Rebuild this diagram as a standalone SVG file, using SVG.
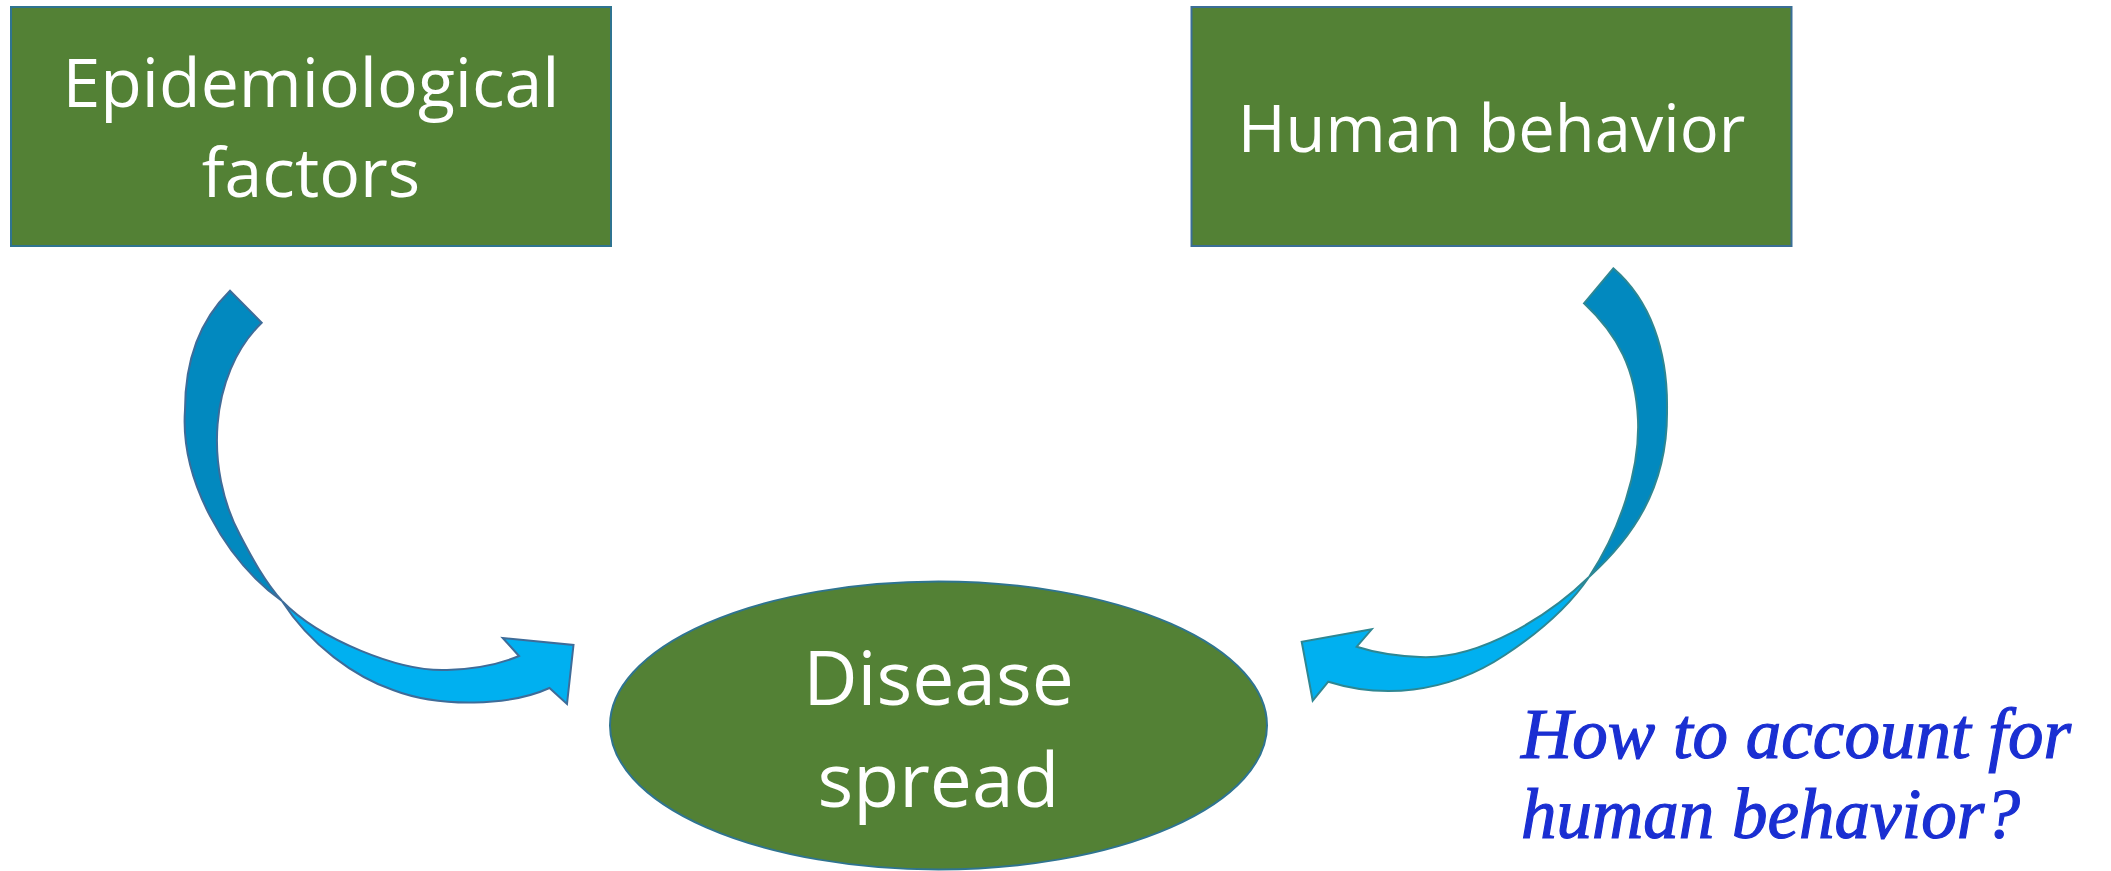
<svg xmlns="http://www.w3.org/2000/svg" width="2111" height="871" viewBox="0 0 2111 871">
<style>
.box{fill:#538135;stroke:#3b6e96;stroke-width:2}
.lbl{fill:#ffffff;font-family:"Open Sans","Noto Sans",sans-serif;text-anchor:middle}
.dark{fill:#0289bf;stroke-width:2;stroke-linejoin:miter}
.light{fill:#00b0f0;stroke-width:2;stroke-linejoin:miter}
.sl{stroke:#3e6c99}
.sr{stroke:#2e8793}
.q{fill:#1a2fd2;stroke:#1a2fd2;stroke-width:1.2;font-family:"Liberation Serif","Times New Roman",serif;font-style:italic;font-size:71px}
</style>
<rect width="2111" height="871" fill="#ffffff"/>
<g id="connectors">
  <g id="arrow-left">
    <path class="dark sl" d="M230,290.7 L261.7,322.7 C208,375 205,470 240,535 C252,558 265,582 282,601 C225,560 180,480 185,410 C185,360 200,320 230,290.7 Z"/>
    <path class="light sl" d="M282,601 C320,640 400,672 447,670 C475,669 500,664 519,656 L502.7,638 L573.5,645 L567,704 L549.5,688 C510,706 440,708 393,690 C355,677 310,645 282,601 Z"/>
  </g>
  <g id="arrow-right">
    <path class="dark sr" d="M1613.3,268.3 C1650,300 1668,350 1667,410 C1668,490 1630,540 1589,577 C1620,530 1640,470 1638,420 C1636,370 1618,335 1584,303.3 Z"/>
    <path class="light sr" d="M1589,577 C1550,615 1480,660 1420,657 C1398,656 1376,653 1356.7,646.7 L1371.7,629.3 L1301.7,641.7 L1312.7,700.7 L1328.3,681.7 C1380,698 1445,695 1505,655 C1540,632 1570,605 1589,577 Z"/>
  </g>
</g>
<g id="node-epidemiological">
  <rect class="box" x="11" y="7" width="600" height="239" style="stroke:#2f7490"/>
  <text class="lbl" font-size="68" x="311" y="107">Epidemiological</text>
  <text class="lbl" font-size="68" x="311" y="197">factors</text>
</g>
<g id="node-human-behavior">
  <rect class="box" x="1191.5" y="7" width="600" height="239"/>
  <text class="lbl" font-size="65" x="1491.5" y="152">Human behavior</text>
</g>
<g id="node-disease-spread">
  <ellipse class="box" cx="938.5" cy="725.5" rx="328.5" ry="144" style="stroke:#2f7490"/>
  <text class="lbl" font-size="75" x="938.5" y="705">Disease</text>
  <text class="lbl" font-size="75" x="938.5" y="807">spread</text>
</g>
<g id="question">
  <text class="q" x="1521" y="758">How to account for</text>
  <text class="q" x="1521" y="838">human behavior?</text>
</g>
</svg>
